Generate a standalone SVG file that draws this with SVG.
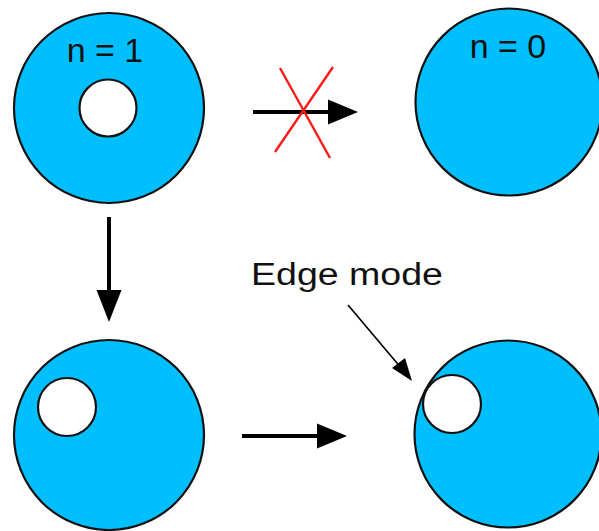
<svg xmlns="http://www.w3.org/2000/svg" width="599" height="531" viewBox="0 0 599 531">
<style>
.disk{fill:#00bfff;stroke:#111;stroke-width:2.2}
.hole{fill:#fff;stroke:#111;stroke-width:2.2}
.lbl{font-family:"Liberation Sans",Arial,sans-serif;fill:#111}
.thick{stroke:#000;stroke-width:4;fill:none}
.head{fill:#000}
.cross{stroke:#ff1a1a;stroke-width:2.4}
</style>
<rect width="599" height="531" fill="#fff"/>
<g id="node-n1">
<circle class="disk" cx="109" cy="108" r="95"/>
<circle class="hole" cx="108" cy="108" r="28.5"/>
<text class="lbl" x="105" y="62" font-size="34" text-anchor="middle">n = 1</text>
</g>
<g id="node-n0">
<circle class="disk" cx="509" cy="102" r="93.5"/>
<text class="lbl" x="508" y="58" font-size="34" text-anchor="middle">n = 0</text>
</g>
<g id="node-moved">
<circle class="disk" cx="109" cy="435" r="95"/>
<circle class="hole" cx="67" cy="407" r="29"/>
</g>
<g id="node-edge">
<circle class="disk" cx="508" cy="434" r="93.5"/>
<circle class="hole" cx="452" cy="404" r="29"/>
</g>
<g id="label-edge-mode">
<text class="lbl" x="251" y="285" font-size="31" textLength="192" lengthAdjust="spacingAndGlyphs">Edge mode</text>
</g>
<g id="connectors">
<line class="thick" x1="253" y1="112" x2="330" y2="112"/>
<polygon class="head" points="358,112 328,99.5 328,124.5"/>
<line class="cross" x1="280" y1="68" x2="330" y2="158"/>
<line class="cross" x1="333" y1="67" x2="275" y2="152"/>
<line class="thick" x1="109" y1="217" x2="109" y2="292"/>
<polygon class="head" points="109,322 96.5,290 121.5,290"/>
<line class="thick" x1="242" y1="436" x2="319" y2="436"/>
<polygon class="head" points="347,436 317,423.5 317,448.5"/>
<line x1="348" y1="305" x2="402" y2="369" stroke="#000" stroke-width="1.6"/>
<polygon class="head" points="412,381 392,368 405,358"/>
</g>
</svg>
